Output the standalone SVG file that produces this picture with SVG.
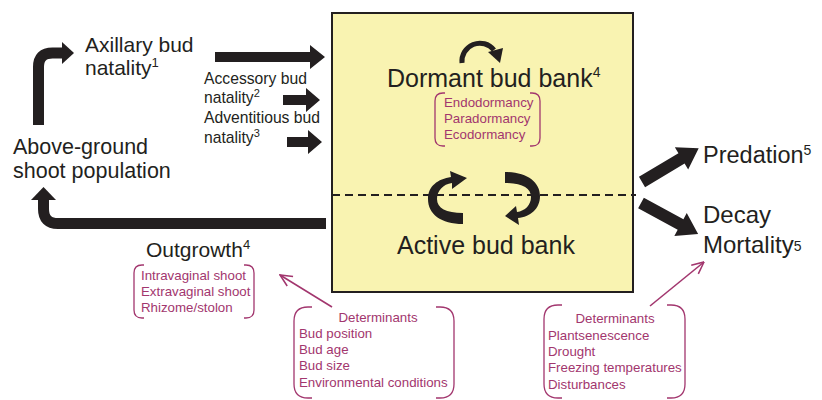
<svg xmlns="http://www.w3.org/2000/svg" width="822" height="400" viewBox="0 0 822 400">
<defs>
<style>
.t{font-family:"Liberation Sans",Arial,Helvetica,sans-serif;fill:#231f20}
.m{font-family:"Liberation Sans",Arial,Helvetica,sans-serif;fill:#a2366e;font-size:13.3px}
.blk{fill:#231f20}
.br{fill:none;stroke:#a2366e;stroke-width:1.3}
.thin{fill:none;stroke:#a2366e;stroke-width:1.6}
</style>
<marker id="oa" viewBox="0 0 10 10" refX="9.5" refY="5" markerWidth="14" markerHeight="14" markerUnits="userSpaceOnUse" orient="auto">
<path d="M1,1 L9.5,5 L1,9" fill="none" stroke="#a2366e" stroke-width="1.1"/>
</marker>
</defs>
<rect width="822" height="400" fill="#ffffff"/>

<g id="budbank">
<rect x="332" y="13" width="301" height="279" fill="#f9f3b1" stroke="#231f20" stroke-width="2"/>
<line x1="332" y1="195" x2="636" y2="195" stroke="#231f20" stroke-width="2.2" stroke-dasharray="8,5"/>
<path d="M462 63 A18 18 0 0 1 494 50" fill="none" stroke="#231f20" stroke-width="5"/>
<polygon class="blk" points="488,52 503,48 500,63"/>
<path class="blk" d="M463 224 C441 224,428 214,428 199 C428 186,438 179,451 177 L450 171 L467 178 L452 189 L452 183 C443 184,437 191,437 199 C437 208,446 213,463 213 Z"/>
<path class="blk" d="M505 172 C527 172,540 182,540 196 C540 209,530 217,518 218 L519 225 L505 216 L516 206 L517 212 C525 211,531 205,531 197 C531 188,522 183,505 183 Z"/>
<text class="t" x="387" y="87" font-size="25">Dormant bud bank<tspan font-size="14" dy="-10">4</tspan></text>
<path class="br" d="M445 93 H443 Q435 93 435 101 V138 Q435 146 443 146 H445 M530 93 H532 Q540 93 540 101 V138 Q540 146 532 146 H530"/>
<text class="m" x="444" y="107">Endodormancy</text>
<text class="m" x="444" y="123">Paradormancy</text>
<text class="m" x="444" y="139">Ecodormancy</text>
<text class="t" x="397" y="254" font-size="25">Active bud bank</text>
</g>

<g id="shoots">
<text class="t" x="13" y="154" font-size="21.5">Above-ground</text>
<text class="t" x="13" y="178" font-size="21.5">shoot population</text>
</g>

<g id="axillary">
<text class="t" x="85" y="52" font-size="21">Axillary bud</text>
<text class="t" x="85" y="75" font-size="21">natality<tspan font-size="13" dy="-8">1</tspan></text>
</g>

<g id="accessory">
<text class="t" x="204" y="84" font-size="15.7">Accessory bud</text>
<text class="t" x="204" y="103" font-size="15.7">natality<tspan font-size="11" dy="-6">2</tspan></text>
</g>

<g id="adventitious">
<text class="t" x="204" y="123" font-size="15.7">Adventitious bud</text>
<text class="t" x="204" y="143" font-size="15.7">natality<tspan font-size="11" dy="-6">3</tspan></text>
</g>

<g id="outgrowth">
<text class="t" x="146" y="257" font-size="21">Outgrowth<tspan font-size="13" dy="-8">4</tspan></text>
<path class="br" d="M144 265 H142 Q134 265 134 273 V310 Q134 318 142 318 H144 M244 265 H246 Q254 265 254 273 V310 Q254 318 246 318 H244"/>
<text class="m" x="141" y="280">Intravaginal shoot</text>
<text class="m" x="141" y="296">Extravaginal shoot</text>
<text class="m" x="141" y="312">Rhizome/stolon</text>
</g>

<g id="predation">
<text class="t" x="703" y="163" font-size="23.5">Predation<tspan font-size="14" dy="-8">5</tspan></text>
</g>

<g id="mortality">
<text class="t" x="703" y="223" font-size="24">Decay</text>
<text class="t" x="703" y="253" font-size="24">Mortality<tspan font-size="14" dy="-2">5</tspan></text>
</g>

<g id="determinants-outgrowth">
<path class="br" d="M312 307 H308 Q294 307 294 321 V384 Q294 398 308 398 H312 M436 307 H440 Q454 307 454 321 V384 Q454 398 440 398 H436"/>
<text class="m" x="378" y="322" text-anchor="middle">Determinants</text>
<text class="m" x="299" y="338">Bud position</text>
<text class="m" x="299" y="354">Bud age</text>
<text class="m" x="299" y="370">Bud size</text>
<text class="m" x="299" y="387">Environmental conditions</text>
</g>

<g id="determinants-mortality">
<path class="br" d="M562 305 H558 Q544 305 544 319 V384 Q544 398 558 398 H562 M667 305 H671 Q685 305 685 319 V384 Q685 398 671 398 H667"/>
<text class="m" x="615" y="323" text-anchor="middle">Determinants</text>
<text class="m" x="548" y="340">Plantsenescence</text>
<text class="m" x="548" y="356">Drought</text>
<text class="m" x="548" y="372">Freezing temperatures</text>
<text class="m" x="548" y="389">Disturbances</text>
</g>

<g id="connectors">
<path d="M38.5 125 V67 Q38.5 53 52.5 53 H63" fill="none" stroke="#231f20" stroke-width="11"/>
<polygon class="blk" points="62,42 74,53 62,64"/>
<polygon class="blk" points="215,52 310,52 310,45 325,57 310,69 310,62 215,62"/>
<polygon class="blk" points="283,95 306,95 306,88 320,100 306,112 306,105 283,105"/>
<polygon class="blk" points="287,137 308,137 308,130 322,142 308,154 308,147 287,147"/>
<path d="M326 223.5 H58 Q43.5 223.5 43.5 209 V199" fill="none" stroke="#231f20" stroke-width="11"/>
<polygon class="blk" points="31,200 43.5,187 56,200"/>
<polygon class="blk" points="0,-6 46,-6 46,-13 66,0 46,13 46,6 0,6" transform="translate(642,182) rotate(-30.8)"/>
<polygon class="blk" points="0,-6 45,-6 45,-13 65,0 45,13 45,6 0,6" transform="translate(641,203) rotate(28.5)"/>
<line class="thin" x1="332" y1="307" x2="280" y2="275" marker-end="url(#oa)"/>
<line class="thin" x1="650" y1="306" x2="704" y2="262" marker-end="url(#oa)"/>
</g>
</svg>
